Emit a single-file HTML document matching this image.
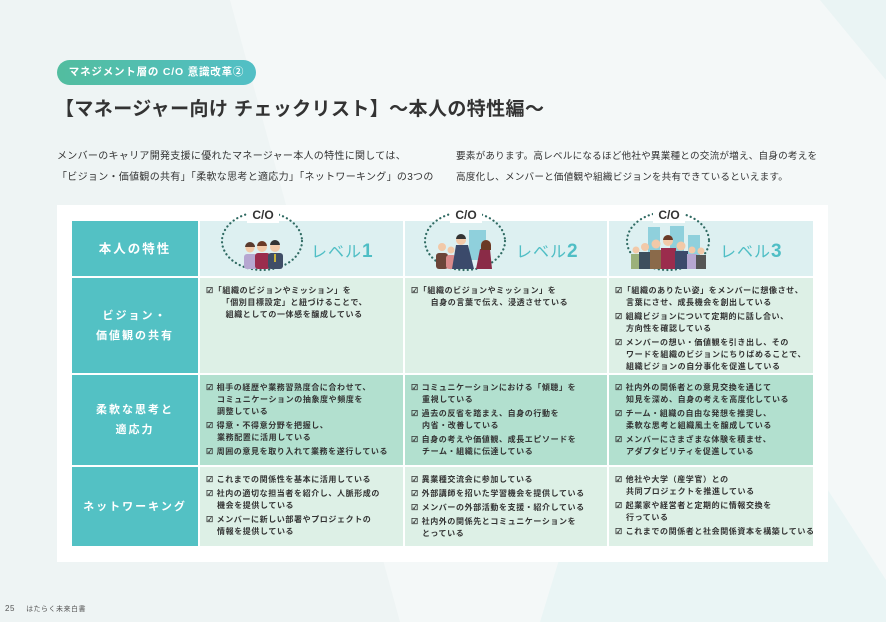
<!DOCTYPE html>
<html><head><meta charset="utf-8"><style>
*{margin:0;padding:0;box-sizing:border-box}
body{width:886px;height:622px;position:relative;overflow:hidden;background:#f4f8f8;font-family:"Liberation Sans","Noto Sans CJK JP",sans-serif;color:#333}
.abs{position:absolute}
.bgtri{position:absolute;left:0;top:0;width:886px;height:622px}
.pill{left:57px;top:60px;width:199px;height:25px;border-radius:13px;background:linear-gradient(90deg,#52bd9f,#52bfc6);color:#fff;font-size:10.5px;font-weight:bold;letter-spacing:0.8px;line-height:25px;text-align:center;white-space:nowrap}
.title{left:55px;top:94px;font-size:19px;font-weight:bold;letter-spacing:0.4px;color:#333;white-space:nowrap}
.intro{font-size:10px;line-height:21px;letter-spacing:0.3px;color:#333;white-space:nowrap;overflow:hidden}
.panel{left:57px;top:205px;width:771px;height:357px;background:#fff}
.cell{position:absolute;overflow:hidden}
.lab{background:#53c1c4;color:#fff;font-size:11px;font-weight:bold;letter-spacing:2px;display:flex;align-items:center;justify-content:center;text-align:center;line-height:20px}
.hd{background:#ddf0f1}
.g1{background:#ddf0e6}
.g2{background:#b2e0cf}
.items{font-size:8px;font-weight:bold;letter-spacing:0.6px;line-height:12px;color:#333;padding:7px 0 0 6px}
.it{padding-left:11px;text-indent:-11px;margin-bottom:2px;white-space:nowrap}
.lv{font-size:16px;color:#4fbec5;letter-spacing:1px;font-weight:normal}
.lv b{font-size:19px}
</style></head><body>
<svg class="bgtri" viewBox="0 0 886 622"><polygon points="230,0 400,622 0,622 0,0" fill="#eef4f4"/><polygon points="660,230 886,580 886,622 540,622" fill="#eaf5f5"/><polygon points="820,0 886,0 886,80" fill="#eaf4f4"/></svg>
<div class="abs pill">マネジメント層の C/O 意識改革②</div>
<div class="abs title">【マネージャー向け チェックリスト】～本人の特性編～</div>
<div class="abs intro" style="left:57px;top:146px;width:385px">メンバーのキャリア開発支援に優れたマネージャー本人の特性に関しては、<br>「ビジョン・価値観の共有」「柔軟な思考と適応力」「ネットワーキング」の3つの</div>
<div class="abs intro" style="left:456px;top:146px;width:380px;font-size:9.6px;letter-spacing:0.2px">要素があります。高レベルになるほど他社や異業種との交流が増え、自身の考えを<br>高度化し、メンバーと価値観や組織ビジョンを共有できているといえます。</div>
<div class="abs panel"></div>

<div class="cell lab" style="left:72px;top:221px;width:126px;height:55px;font-size:12.5px">本人の特性</div>
<div class="cell hd" style="left:200px;top:221px;width:203px;height:55px"></div>
<div class="cell hd" style="left:405px;top:221px;width:202px;height:55px"></div>
<div class="cell hd" style="left:609px;top:221px;width:204px;height:55px"></div>

<svg class="abs" style="left:0;top:0" width="886" height="622">
 <g fill="none" stroke="#2f6a62" stroke-width="2.2" stroke-dasharray="0.1 4.2" stroke-linecap="round">
  <ellipse cx="262" cy="241" rx="40" ry="29"/>
  <ellipse cx="465" cy="241" rx="40" ry="29"/>
  <ellipse cx="668" cy="241" rx="41" ry="29"/>
 </g>
 <rect x="247" y="207" width="32" height="16" fill="#fff"/>
 <rect x="450" y="207" width="32" height="16" fill="#fff"/>
 <rect x="653" y="207" width="32" height="16" fill="#fff"/>
 <g font-family="Liberation Sans,sans-serif" font-size="12" font-weight="bold" fill="#333" text-anchor="middle">
  <text x="263" y="219">C/O</text><text x="466" y="219">C/O</text><text x="669" y="219">C/O</text>
 </g>
 <g>
  <rect x="244" y="254" width="13" height="15" rx="3" fill="#b6a7d1"/><circle cx="250" cy="248" r="4.5" fill="#f2c9a8"/><path d="M245 247a5 5 0 0 1 10 0z" fill="#5a3b2e"/>
  <rect x="255" y="253" width="15" height="16" rx="3" fill="#9b2c4d"/><circle cx="262" cy="247" r="5" fill="#f2c9a8"/><path d="M257 246a5 5 0 0 1 10 0z" fill="#6b3a26"/>
  <rect x="268" y="253" width="15" height="16" rx="3" fill="#3f4d66"/><circle cx="275" cy="247" r="5" fill="#f2c9a8"/><path d="M270 245a5 5 0 0 1 10 0z" fill="#333"/><rect x="274" y="254" width="2" height="8" fill="#c9b33a"/>
 </g>
 <g>
  <rect x="469" y="230" width="17" height="30" fill="#8fd0dc"/>
  <rect x="436" y="253" width="12" height="16" rx="3" fill="#6b4438"/><circle cx="442" cy="247" r="4" fill="#f2c9a8"/>
  <rect x="446" y="255" width="10" height="14" rx="3" fill="#d98a8a"/><circle cx="451" cy="250" r="3.5" fill="#f2c9a8"/>
  <path d="M452 269l4-24h12l6 24z" fill="#3b4a6b"/><circle cx="461" cy="240" r="5" fill="#f2c9a8"/><path d="M456 239a5 5 0 0 1 10 0z" fill="#333"/>
  <path d="M476 269l4-20h10l2 20z" fill="#8a2b47"/><circle cx="486" cy="245" r="5" fill="#f2c9a8"/><path d="M481 245a5 5 0 0 1 10 0v5h-10z" fill="#6b3a26"/>
 </g>
 <g>
  <rect x="648" y="227" width="12" height="32" fill="#8fd0dc"/><rect x="670" y="226" width="14" height="34" fill="#8fd0dc"/><rect x="688" y="235" width="12" height="26" fill="#8fd0dc"/>
  <rect x="631" y="254" width="10" height="15" fill="#9bb17a"/><circle cx="636" cy="250" r="3.5" fill="#f2c9a8"/>
  <rect x="639" y="252" width="12" height="17" fill="#3d4f5e"/><circle cx="645" cy="247" r="4" fill="#f2c9a8"/>
  <rect x="650" y="250" width="13" height="19" fill="#8a6a4a"/><circle cx="656" cy="244" r="4.5" fill="#f2c9a8"/>
  <rect x="661" y="248" width="15" height="21" fill="#9b2c4d"/><circle cx="668" cy="241" r="5" fill="#f2c9a8"/><path d="M663 240a5 5 0 0 1 10 0z" fill="#6b3a26"/>
  <rect x="675" y="251" width="13" height="18" fill="#3b4a6b"/><circle cx="681" cy="246" r="4.5" fill="#f2c9a8"/>
  <rect x="687" y="254" width="10" height="15" fill="#b6a7d1"/><circle cx="692" cy="250" r="3.5" fill="#f2c9a8"/>
  <rect x="696" y="255" width="10" height="14" fill="#555"/><circle cx="701" cy="251" r="3.5" fill="#f2c9a8"/>
 </g>
</svg>
<div class="abs lv" style="left:311px;top:238px">レベル<b>1</b></div>
<div class="abs lv" style="left:516px;top:238px">レベル<b>2</b></div>
<div class="abs lv" style="left:720px;top:238px">レベル<b>3</b></div>

<div class="cell lab" style="left:72px;top:278px;width:126px;height:95px">ビジョン・<br>価値観の共有</div>
<div class="cell g1 items" style="left:200px;top:278px;width:203px;height:95px"><div class="it">☑「組織のビジョンやミッション」を<br>　「個別目標設定」と紐づけることで、<br>　組織としての一体感を醸成している</div></div>
<div class="cell g1 items" style="left:405px;top:278px;width:202px;height:95px"><div class="it">☑「組織のビジョンやミッション」を<br>　自身の言葉で伝え、浸透させている</div></div>
<div class="cell g1 items" style="left:609px;top:278px;width:204px;height:95px"><div class="it">☑「組織のありたい姿」をメンバーに想像させ、<br>言葉にさせ、成長機会を創出している</div><div class="it">☑ 組織ビジョンについて定期的に話し合い、<br>方向性を確認している</div><div class="it">☑ メンバーの想い・価値観を引き出し、その<br>ワードを組織のビジョンにちりばめることで、<br>組織ビジョンの自分事化を促進している</div></div>

<div class="cell lab" style="left:72px;top:375px;width:126px;height:90px">柔軟な思考と<br>適応力</div>
<div class="cell g2 items" style="left:200px;top:375px;width:203px;height:90px"><div class="it">☑ 相手の経歴や業務習熟度合に合わせて、<br>コミュニケーションの抽象度や頻度を<br>調整している</div><div class="it">☑ 得意・不得意分野を把握し、<br>業務配置に活用している</div><div class="it">☑ 周囲の意見を取り入れて業務を遂行している</div></div>
<div class="cell g2 items" style="left:405px;top:375px;width:202px;height:90px"><div class="it">☑ コミュニケーションにおける「傾聴」を<br>重視している</div><div class="it">☑ 過去の反省を踏まえ、自身の行動を<br>内省・改善している</div><div class="it">☑ 自身の考えや価値観、成長エピソードを<br>チーム・組織に伝達している</div></div>
<div class="cell g2 items" style="left:609px;top:375px;width:204px;height:90px"><div class="it">☑ 社内外の関係者との意見交換を通じて<br>知見を深め、自身の考えを高度化している</div><div class="it">☑ チーム・組織の自由な発想を推奨し、<br>柔軟な思考と組織風土を醸成している</div><div class="it">☑ メンバーにさまざまな体験を積ませ、<br>アダプタビリティを促進している</div></div>

<div class="cell lab" style="left:72px;top:467px;width:126px;height:79px">ネットワーキング</div>
<div class="cell g1 items" style="left:200px;top:467px;width:203px;height:79px"><div class="it">☑ これまでの関係性を基本に活用している</div><div class="it">☑ 社内の適切な担当者を紹介し、人脈形成の<br>機会を提供している</div><div class="it">☑ メンバーに新しい部署やプロジェクトの<br>情報を提供している</div></div>
<div class="cell g1 items" style="left:405px;top:467px;width:202px;height:79px"><div class="it">☑ 異業種交流会に参加している</div><div class="it">☑ 外部講師を招いた学習機会を提供している</div><div class="it">☑ メンバーの外部活動を支援・紹介している</div><div class="it">☑ 社内外の関係先とコミュニケーションを<br>とっている</div></div>
<div class="cell g1 items" style="left:609px;top:467px;width:204px;height:79px"><div class="it">☑ 他社や大学（産学官）との<br>共同プロジェクトを推進している</div><div class="it">☑ 起業家や経営者と定期的に情報交換を<br>行っている</div><div class="it">☑ これまでの関係者と社会関係資本を構築している</div></div>

<div class="abs" style="left:5px;top:603px;font-size:8px;color:#555;letter-spacing:0.5px">25　 <span style="font-size:7px">はたらく未来白書</span></div>
</body></html>
